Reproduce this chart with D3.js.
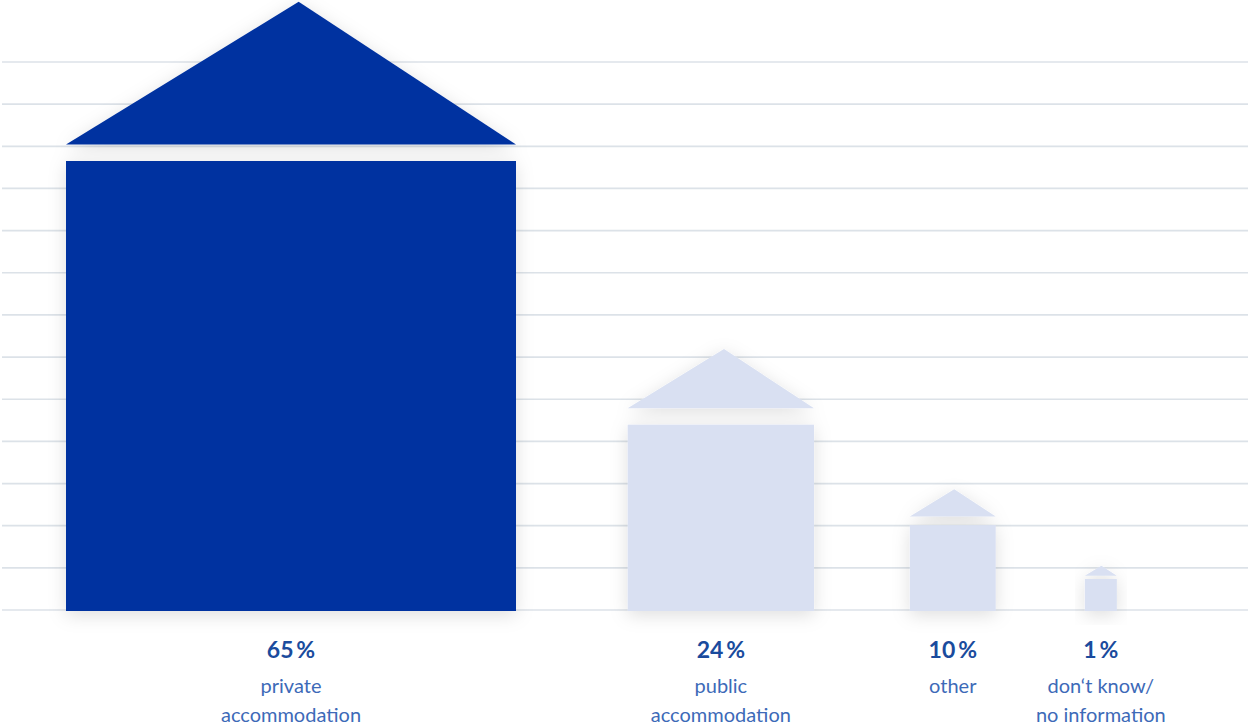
<!DOCTYPE html>
<html><head><meta charset="utf-8">
<script src="https://cdn.jsdelivr.net/npm/d3@7"></script>
<style>
html,body{margin:0;padding:0;background:#fff;}
svg{display:block;}
</style></head>
<body>
<svg id="chart" width="1248" height="726"></svg>
<script>
// ---- data ----
const categories = ["private accommodation", "public accommodation", "other", "don't know/ no information"];
const labelLines = [["private", "accommodation"], ["public", "accommodation"], ["other"], ["don\u2018t know/", "no information"]];
const values = [65, 24, 10, 1];
const valueLabels = ["65\u2009%", "24\u2009%", "10\u2009%", "1\u2009%"];
const highlight = [true, false, false, false];
const gridTicks = d3.range(0, 14);

// ---- layout ----
const W = 1248, H = 726;
const baseY = 611, topGrid = 62;
const svg = d3.select("#chart");

const defs = svg.append("defs");
const f = defs.append("filter").attr("id", "shadow").attr("x", "-30%").attr("y", "-30%").attr("width", "160%").attr("height", "160%");
f.append("feDropShadow").attr("dx", 0).attr("dy", 4).attr("stdDeviation", 9).attr("flood-color", "#000").attr("flood-opacity", 0.13);

// grid
const gy = d3.scaleLinear().domain([0, 13]).range([610, topGrid]);
svg.append("g").selectAll("line").data(gridTicks).join("line")
  .attr("x1", 2).attr("x2", W)
  .attr("y1", d => gy(d)).attr("y2", d => gy(d))
  .attr("stroke", "#dce2e8").attr("stroke-width", 1.7);

// size scale: house side length from value
const size = d3.scalePow().exponent(0.885).domain([0, 65]).range([0, 450]);
const minSide = 32;
const sides = values.map(v => Math.max(minSide, size(v)));

// horizontal placement
const lefts = [];
let x = 66;
sides.forEach((s, i) => {
  if (i > 0) x += 84 + 0.087 * (sides[i - 1] + s) / 2;
  lefts.push(x);
  x += s;
});

const houses = svg.append("g").selectAll("g").data(values).join("g")
  .attr("filter", "url(#shadow)");

houses.each(function (v, i) {
  const g = d3.select(this);
  const s = sides[i], l = lefts[i];
  const fill = highlight[i] ? "#0033a0" : "#d9e0f2";
  const bodyTop = baseY - s;
  const gap = Math.min(16.5, 0.1 * s);
  const roofBase = bodyTop - gap;
  const roofH = 0.317 * s;
  const apexX = l + s / 2 + 0.017 * s;
  g.append("rect").attr("x", l).attr("y", bodyTop).attr("width", s).attr("height", s).attr("fill", fill);
  g.append("path").attr("d", d3.line()([[l, roofBase], [apexX, roofBase - roofH], [l + s, roofBase]]) + "Z").attr("fill", fill);
});

// labels
const lab = svg.append("g").selectAll("g").data(values).join("g")
  .attr("transform", (d, i) => `translate(${lefts[i] + sides[i] / 2},0)`)
  .attr("text-anchor", "middle");
lab.append("text").attr("y", 658)
  .attr("font-family", "Lato, 'Open Sans', sans-serif").attr("font-weight", 700).attr("font-size", 23)
  .attr("fill", "#1a4b9d").text((d, i) => valueLabels[i]);
lab.each(function (d, i) {
  const g = d3.select(this);
  labelLines[i].forEach((t, j) => {
    g.append("text").attr("y", 693 + j * 29)
      .attr("font-family", "Lato, 'Open Sans', sans-serif").attr("font-weight", 400).attr("font-size", 20)
      .attr("fill", "#3d6ab8").text(t);
  });
});
</script>
</body></html>
